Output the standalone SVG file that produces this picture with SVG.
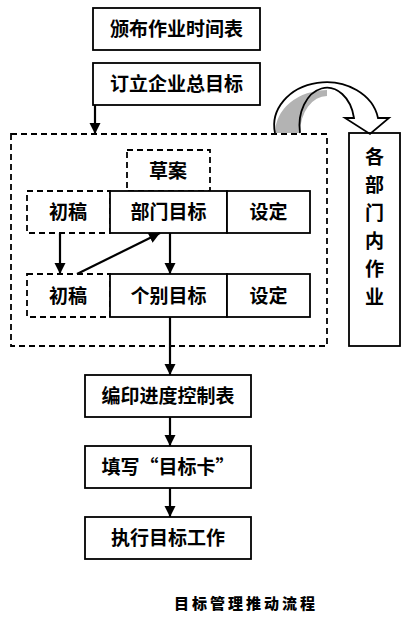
<svg xmlns="http://www.w3.org/2000/svg" width="415" height="617" viewBox="0 0 415 617">
<style>
.box{fill:#fff;stroke:#000;stroke-width:1.8}
.dash{fill:none;stroke:#000;stroke-width:1.8;stroke-dasharray:6 4}
.t{font-family:"Noto Sans CJK SC","Noto Sans CJK TC",sans-serif;font-size:19px;font-weight:bold;text-anchor:middle;fill:#000}
.cap{font-family:"Noto Sans CJK SC",sans-serif;font-size:15px;font-weight:900;text-anchor:middle;letter-spacing:3px;fill:#000}
.ln{stroke:#000;stroke-width:2.2;fill:none;marker-end:url(#ah)}
</style>
<defs>
<marker id="ah" markerUnits="userSpaceOnUse" markerWidth="12" markerHeight="12" refX="11" refY="5.5" orient="auto">
<path d="M0,0 L11,5.5 L0,11 Z" fill="#000"/>
</marker>
</defs>
<rect width="415" height="617" fill="#fff"/>

<g id="outer-frame"><rect class="dash" x="11" y="134" width="316" height="212"/></g>

<g id="n1"><rect class="box" x="93" y="8" width="167" height="42"/><text class="t" x="176.5" y="36">颁布作业时间表</text></g>
<g id="n2"><rect class="box" x="93" y="63" width="167" height="42"/><text class="t" x="176.5" y="91">订立企业总目标</text></g>

<g id="n-caoan"><rect class="dash" x="127" y="150" width="83" height="41"/><text class="t" x="168" y="178">草案</text></g>

<g id="n-chugao1"><rect class="dash" x="27" y="191" width="83" height="42"/><text class="t" x="68" y="219">初稿</text></g>
<g id="n-bumen"><rect class="box" x="110" y="191" width="117" height="42"/><text class="t" x="168.5" y="219">部门目标</text></g>
<g id="n-sheding1"><rect class="box" x="227" y="191" width="83" height="42"/><text class="t" x="268.5" y="219">设定</text></g>

<g id="n-chugao2"><rect class="dash" x="27" y="274" width="83" height="43"/><text class="t" x="68" y="303">初稿</text></g>
<g id="n-gebie"><rect class="box" x="110" y="274" width="117" height="43"/><text class="t" x="168.5" y="303">个别目标</text></g>
<g id="n-sheding2"><rect class="box" x="227" y="274" width="83" height="43"/><text class="t" x="268.5" y="303">设定</text></g>

<g id="n-dept"><rect class="box" x="349" y="133" width="51" height="213"/>
<text class="t" x="374.5" y="164">各</text>
<text class="t" x="374.5" y="192">部</text>
<text class="t" x="374.5" y="220">门</text>
<text class="t" x="374.5" y="248">内</text>
<text class="t" x="374.5" y="276">作</text>
<text class="t" x="374.5" y="304">业</text>
</g>

<g id="n3"><rect class="box" x="85" y="375" width="166" height="42"/><text class="t" x="168" y="403">编印进度控制表</text></g>
<g id="n4"><rect class="box" x="85" y="446" width="166" height="42"/><text class="t" x="168" y="474">填写“目标卡”</text></g>
<g id="n5"><rect class="box" x="85" y="517" width="166" height="42"/><text class="t" x="168" y="545">执行目标工作</text></g>

<g id="connectors">
<line class="ln" x1="95" y1="105" x2="95" y2="134"/>
<line class="ln" x1="60" y1="233" x2="60" y2="274"/>
<line class="ln" x1="77" y1="274" x2="160" y2="233"/>
<line class="ln" x1="170" y1="233" x2="170" y2="274"/>
<line class="ln" x1="170" y1="317" x2="170" y2="375"/>
<line class="ln" x1="170" y1="417" x2="170" y2="446"/>
<line class="ln" x1="170" y1="488" x2="170" y2="517"/>
<path d="M275,133 A52,43 0 0 1 327,90 L327,96 A27,37 0 0 0 300,133 Z" fill="#b3b3b3"/>
<path d="M275,133 A52,43 0 0 1 378,118 L389,118 L370,134 L345,118 L354,118 A27,37 0 0 0 300,133" fill="none" stroke="#000" stroke-width="1.8" stroke-linejoin="miter"/>
</g>

<text class="cap" x="246" y="609">目标管理推动流程</text>
</svg>
